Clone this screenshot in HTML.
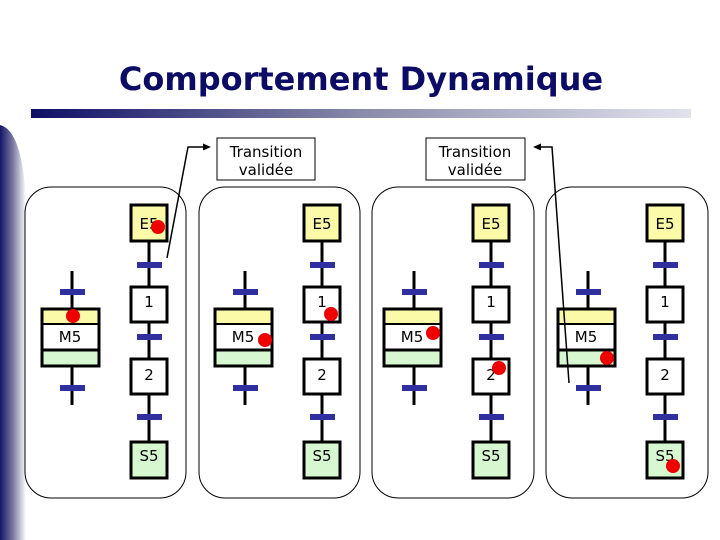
<!DOCTYPE html>
<html><head><meta charset="utf-8"><style>
html,body{margin:0;padding:0;background:#fff}
svg{display:block}
text{font-family:"DejaVu Sans","Liberation Sans",sans-serif}
</style></head><body>
<svg width="720" height="540" viewBox="0 0 720 540" xmlns="http://www.w3.org/2000/svg">
<defs>
<linearGradient id="bar" x1="0" x2="1" y1="0" y2="0">
<stop offset="0" stop-color="#0e0e66"/><stop offset="0.5" stop-color="#8a8aaa"/><stop offset="1" stop-color="#e2e2ee"/>
</linearGradient>
<linearGradient id="side" x1="0" x2="1" y1="0" y2="0">
<stop offset="0" stop-color="#14146a"/><stop offset="0.5" stop-color="#7a7aa0"/><stop offset="1" stop-color="#ffffff"/>
</linearGradient>
<g id="chain">
<line x1="149" y1="241" x2="149" y2="441" stroke="#000" stroke-width="3"/>
<rect x="131" y="205" width="36" height="36" fill="#fafaa8" stroke="#000" stroke-width="3"/>
<text x="149" y="229" font-size="15" text-anchor="middle">E5</text>
<rect x="131" y="287" width="36" height="35" fill="#fff" stroke="#000" stroke-width="3"/>
<text x="149" y="307" font-size="15" text-anchor="middle">1</text>
<rect x="131" y="359" width="36" height="35" fill="#fff" stroke="#000" stroke-width="3"/>
<text x="149" y="380" font-size="15" text-anchor="middle">2</text>
<rect x="131" y="442" width="36" height="36" fill="#d6f7d0" stroke="#000" stroke-width="3"/>
<text x="149" y="461" font-size="15" text-anchor="middle">S5</text>
<rect x="137" y="262" width="25" height="6" fill="#2f2fa0"/>
<rect x="137" y="334" width="25" height="6" fill="#2f2fa0"/>
<rect x="137" y="414" width="25" height="6" fill="#2f2fa0"/>
<line x1="72" y1="271" x2="72" y2="405" stroke="#000" stroke-width="3"/>
<rect x="42" y="309" width="57" height="57" fill="#fff" stroke="#000" stroke-width="3"/>
<rect x="43.5" y="310.5" width="54" height="13" fill="#fafaa8"/>
<line x1="42" y1="324" x2="99" y2="324" stroke="#000" stroke-width="2"/>
<line x1="42" y1="350" x2="99" y2="350" stroke="#000" stroke-width="3"/>
<rect x="43.5" y="351.5" width="54" height="13" fill="#d6f7d0"/>
<text x="70" y="342" font-size="15" text-anchor="middle">M5</text>
<rect x="60" y="289" width="25" height="6" fill="#2f2fa0"/>
<rect x="60" y="385" width="25" height="6" fill="#2f2fa0"/>
</g>
</defs>
<path d="M0,125 Q22,130 26,200 L26,540 L0,540 Z" fill="url(#side)"/>
<text x="361" y="90" font-size="32" font-weight="bold" fill="#0c0c66" text-anchor="middle" font-family="Liberation Sans,sans-serif">Comportement Dynamique</text>
<rect x="31" y="109" width="660" height="9" fill="url(#bar)"/>
<g fill="none" stroke="#000" stroke-width="1">
<rect x="25" y="187" width="161" height="311" rx="26"/>
<rect x="199" y="187" width="161" height="311" rx="26"/>
<rect x="372" y="187" width="162" height="311" rx="26"/>
<rect x="546" y="187" width="162" height="311" rx="26"/>
</g>
<use href="#chain"/>
<use href="#chain" transform="translate(173,0)"/>
<use href="#chain" transform="translate(342,0)"/>
<use href="#chain" transform="translate(516,0)"/>
<rect x="217" y="138" width="98" height="42" fill="#fff" stroke="#000"/>
<text x="266" y="157" font-size="15" text-anchor="middle">Transition</text>
<text x="266" y="175" font-size="15" text-anchor="middle">validée</text>
<rect x="426" y="138" width="99" height="42" fill="#fff" stroke="#000"/>
<text x="475" y="157" font-size="15" text-anchor="middle">Transition</text>
<text x="475" y="175" font-size="15" text-anchor="middle">validée</text>
<polyline points="167,258 188,147 205,147" fill="none" stroke="#000" stroke-width="1.5"/>
<polygon points="211,147 203,143.5 203,150.5" fill="#000"/>
<polyline points="569,383 552,147 539,147" fill="none" stroke="#000" stroke-width="1.5"/>
<polygon points="533,147 541,143.5 541,150.5" fill="#000"/>
<g fill="#ee0000">
<circle cx="158" cy="227" r="7"/>
<circle cx="73" cy="316" r="7"/>
<circle cx="331" cy="314" r="7"/>
<circle cx="265" cy="340" r="7"/>
<circle cx="433" cy="333" r="7"/>
<circle cx="499" cy="368" r="7"/>
<circle cx="607" cy="358" r="7"/>
<circle cx="673" cy="466" r="7"/>
</g>
</svg>
</body></html>
